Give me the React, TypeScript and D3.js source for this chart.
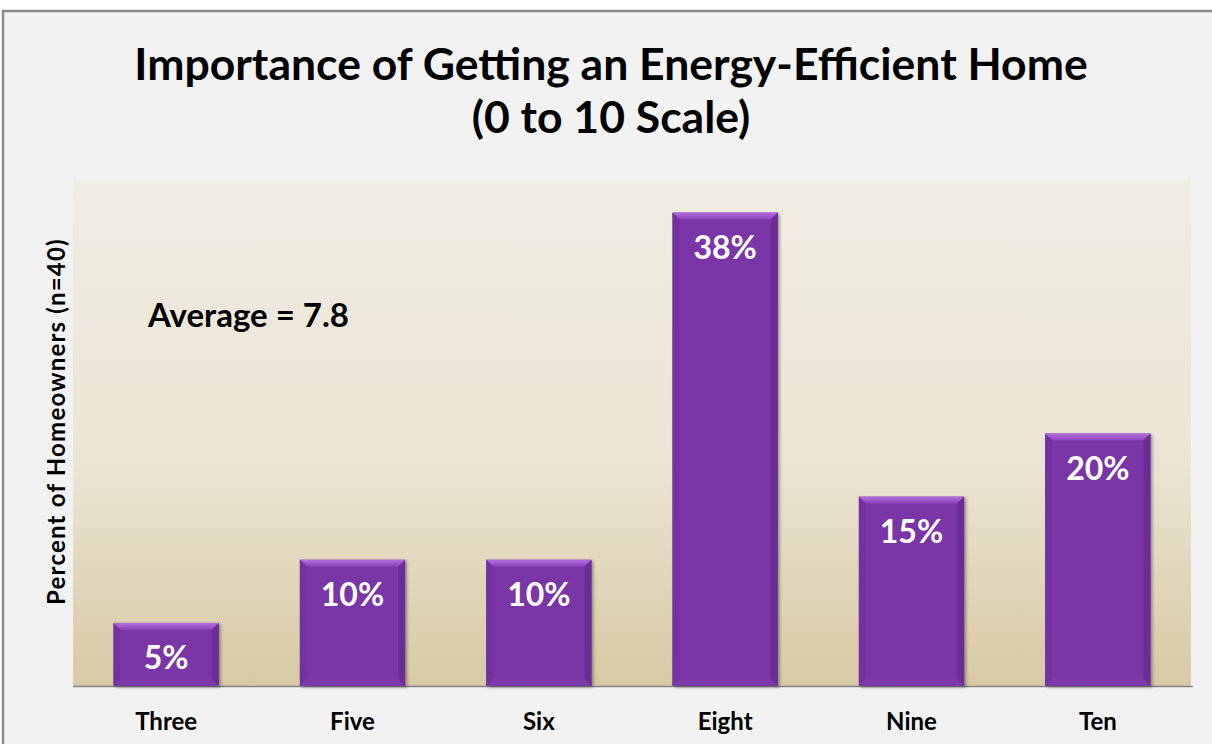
import React from "react";
import * as d3 from "d3";

// Ratings given by homeowners (0–10 scale) and share of respondents
const categories = ["Three", "Five", "Six", "Eight", "Nine", "Ten"];
const shares = [5, 10, 10, 37.5, 15, 20];
const titleLines = ["Importance of Getting an Energy-Efficient Home", "(0 to 10 Scale)"];
const yAxisTitle = "Percent of Homeowners (n=40)";
const averageNote = "Average = 7.8";

const W = 1212;
const H = 744;
const plot = { left: 73, right: 1191, top: 181, bottom: 686 };
const FONT = "Lato, 'Open Sans', sans-serif";

export default function App() {
  const x = d3
    .scaleBand<string>()
    .domain(categories)
    .range([plot.left, plot.right])
    .paddingInner(0.435)
    .paddingOuter(0.2175);
  const y = d3.scaleLinear().domain([0, 40]).range([plot.bottom, plot.top]);
  const fmt = (v: number) => `${Math.round(v)}%`;

  const bw = x.bandwidth();
  const bev = 7;

  return (
    <svg
      width={W}
      height={H}
      style={{ position: "absolute", left: 0, top: 0, display: "block" }}
      fontFamily={FONT}
    >
      <defs>
        <linearGradient id="plotBg" x1="0" y1="0" x2="0" y2="1">
          <stop offset="0" stopColor="#efece2" />
          <stop offset="0.55" stopColor="#ebe5d4" />
          <stop offset="1" stopColor="#d7c9a4" />
        </linearGradient>
        <linearGradient id="bevTop" x1="0" y1="0" x2="0" y2="1">
          <stop offset="0" stopColor="#b46ee0" />
          <stop offset="1" stopColor="#8a43b8" />
        </linearGradient>
        <filter id="barShadow" x="-10%" y="-10%" width="125%" height="125%">
          <feDropShadow dx="2" dy="1.5" stdDeviation="1.5" floodColor="#000" floodOpacity="0.35" />
        </filter>
      </defs>

      <rect x={0} y={0} width={W} height={H} fill="#ffffff" />
      <rect x={3} y={11} width={W} height={H} fill="#f2f2f2" />
      <path d={`M3,${H} V11 H${W}`} fill="none" stroke="#8c8c8c" strokeWidth={2.5} />

      {titleLines.map((t, i) => (
        <text
          key={t}
          x={611}
          y={80 + i * 53}
          textAnchor="middle"
          fontSize={44.5}
          fontWeight={700}
          fill="#000"
        >
          {t}
        </text>
      ))}

      <rect
        x={plot.left}
        y={plot.top}
        width={plot.right - plot.left}
        height={plot.bottom - plot.top}
        fill="url(#plotBg)"
      />
      <line
        x1={plot.left}
        x2={plot.right + 2}
        y1={plot.bottom + 0.5}
        y2={plot.bottom + 0.5}
        stroke="#858585"
        strokeWidth={1.5}
      />

      <text
        transform={`translate(55,${(plot.top + plot.bottom) / 2 - 12}) rotate(-90)`}
        textAnchor="middle"
        dominantBaseline="central"
        fontSize={24}
        letterSpacing={1.2}
        fontWeight={700}
        fill="#000"
      >
        {yAxisTitle}
      </text>

      <text x={148} y={327} fontSize={33} fontWeight={700} fill="#000">
        {averageNote}
      </text>

      {categories.map((c, i) => {
        const x0 = x(c)!;
        const x1 = x0 + bw;
        const y0 = y(shares[i]);
        const y1 = y(0);
        return (
          <g key={c}>
            <rect x={x0} y={y0} width={bw} height={y1 - y0} fill="#7a36a7" filter="url(#barShadow)" />
            {/* bevelled edges */}
            <polygon
              points={`${x0},${y0} ${x1},${y0} ${x1 - bev},${y0 + bev} ${x0 + bev},${y0 + bev}`}
              fill="url(#bevTop)"
            />
            <polygon
              points={`${x0},${y0} ${x0 + bev},${y0 + bev} ${x0 + bev},${y1 - bev} ${x0},${y1}`}
              fill="#7233a1"
            />
            <polygon
              points={`${x1},${y0} ${x1 - bev},${y0 + bev} ${x1 - bev},${y1 - bev} ${x1},${y1}`}
              fill="#6a2d96"
            />
            <polygon
              points={`${x0},${y1} ${x0 + bev},${y1 - bev} ${x1 - bev},${y1 - bev} ${x1},${y1}`}
              fill="#7d3aaa"
            />
            <text
              x={x0 + bw / 2}
              y={y0 + 34}
              textAnchor="middle"
              dominantBaseline="central"
              fontSize={32}
              fontWeight={700}
              fill="#ffffff"
            >
              {fmt(shares[i])}
            </text>
            <text
              x={x0 + bw / 2}
              y={720}
              textAnchor="middle"
              dominantBaseline="central"
              fontSize={24}
              fontWeight={700}
              fill="#000"
            >
              {c}
            </text>
          </g>
        );
      })}
    </svg>
  );
}
